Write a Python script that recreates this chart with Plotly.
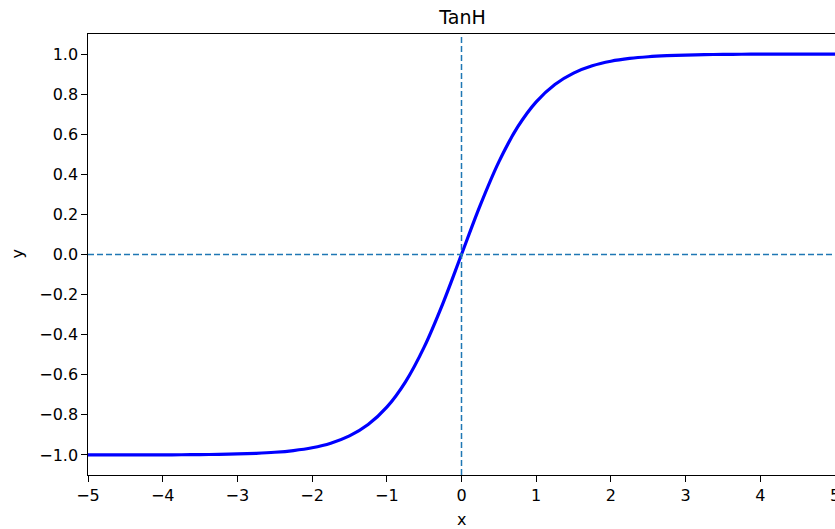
import plotly.graph_objects as go

# Values (TanH activation)
x_vals = [-5.0, -4.75, -4.5, -4.25, -4.0, -3.75, -3.5, -3.25, -3.0, -2.75, -2.5,
          -2.25, -2.0, -1.75, -1.5, -1.25, -1.0, -0.75, -0.5, -0.25, 0.0,
          0.25, 0.5, 0.75, 1.0, 1.25, 1.5, 1.75, 2.0, 2.25, 2.5,
          2.75, 3.0, 3.25, 3.5, 3.75, 4.0, 4.25, 4.5, 4.75, 5.0]
y_vals = [-0.9999, -0.9999, -0.9998, -0.9996, -0.9993, -0.9989, -0.9982, -0.9970, -0.9951, -0.9918, -0.9866,
          -0.9780, -0.9640, -0.9414, -0.9051, -0.8483, -0.7616, -0.6351, -0.4621, -0.2449, 0.0,
          0.2449, 0.4621, 0.6351, 0.7616, 0.8483, 0.9051, 0.9414, 0.9640, 0.9780, 0.9866,
          0.9918, 0.9951, 0.9970, 0.9982, 0.9989, 0.9993, 0.9996, 0.9998, 0.9999, 0.9999]

x_ticks = [-5, -4, -3, -2, -1, 0, 1, 2, 3, 4, 5]
y_ticks = [-1.0, -0.8, -0.6, -0.4, -0.2, 0.0, 0.2, 0.4, 0.6, 0.8, 1.0]
title_text = "TanH"
x_label = "x"
y_label = "y"

FONT = "DejaVu Sans"
W, H = 835, 529
L, T, B = 88, 34, 54

fig = go.Figure()
fig.add_trace(go.Scatter(x=x_vals, y=y_vals, mode="lines",
                         line=dict(color="#0000ff", width=3.2, shape="spline"),
                         showlegend=False, hoverinfo="skip"))

# dashed reference lines at x=0 and y=0
fig.add_shape(type="line", xref="x", yref="paper", x0=0, x1=0, y0=0, y1=1,
              line=dict(color="#1f77b4", width=1.5, dash="6px,3px"))
fig.add_shape(type="line", xref="paper", yref="y", x0=0, x1=1, y0=0, y1=0,
              line=dict(color="#1f77b4", width=1.5, dash="6px,3px"))

# axis labels
fig.add_annotation(text=x_label, xref="paper", yref="paper",
                   x=0.5, y=-(519 - (H - B)) / (H - T - B), xanchor="center", yanchor="middle",
                   showarrow=False, font=dict(size=16, color="black"))
fig.add_annotation(text=y_label, xref="paper", yref="paper",
                   x=-(L - 17) / (W - L), y=0.5, xanchor="center", yanchor="middle",
                   textangle=-90, showarrow=False, font=dict(size=16, color="black"))

fig.update_layout(
    template="none",
    width=W, height=H,
    margin=dict(l=L, r=0, t=T, b=B, pad=0),
    paper_bgcolor="white", plot_bgcolor="white",
    font=dict(family=FONT, size=16, color="black"),
    title=dict(text=title_text, x=(L + (W + 2 - L) / 2) / W, xanchor="center",
               y=1 - 17 / H, yanchor="middle", font=dict(size=19, color="black")),
    xaxis=dict(range=[-5, 5], tickvals=x_ticks, ticks="outside", ticklen=5.5,
               tickwidth=1.3, tickcolor="black", showgrid=False, zeroline=False,
               showline=True, linecolor="black", linewidth=1.3, mirror=True,
               automargin=False, ticklabeloverflow="allow"),
    yaxis=dict(range=[-1.1, 1.1], tickvals=y_ticks, tickformat=".1f", ticks="outside",
               ticklen=5.5, tickwidth=1.3, tickcolor="black", showgrid=False,
               zeroline=False, showline=True, linecolor="black", linewidth=1.3,
               mirror=False, automargin=False),
)

fig.write_html("out.html")
